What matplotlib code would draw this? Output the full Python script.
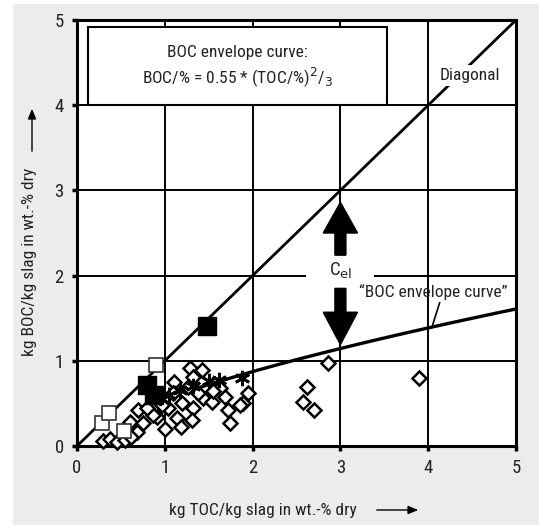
import numpy as np
import matplotlib
matplotlib.use("Agg")
import matplotlib.pyplot as plt
from matplotlib.patches import Rectangle, FancyArrow, FancyArrowPatch

plt.rcParams['font.family'] = ['Roboto Condensed', 'Liberation Sans Narrow',
                               'Open Sans Condensed', 'Liberation Sans', 'DejaVu Sans']

# ---- data ----
filled_sq_x = [1.48, 0.80, 0.88]
filled_sq_y = [1.41, 0.72, 0.60]

open_sq_x = [0.90, 0.28, 0.36, 0.54]
open_sq_y = [0.95, 0.27, 0.39, 0.18]

star_x = [0.95, 1.05, 1.17, 1.32, 1.50, 1.62, 1.88]
star_y = [0.56, 0.60, 0.66, 0.70, 0.76, 0.78, 0.80]

dia_x = [2.86, 2.62, 2.57, 2.70, 3.90, 1.89, 1.95,
         1.29, 1.42, 1.32, 1.26, 1.63, 1.44, 1.54, 1.32, 1.20, 1.14, 1.31,
         1.04, 0.91, 1.74, 1.72, 1.86, 1.10, 1.38, 1.55, 1.68,
         0.87, 0.97, 1.09, 0.68, 0.60, 0.75, 0.70, 0.80, 1.00, 1.18,
         0.30, 0.38, 0.46, 0.55, 0.62]
dia_y = [0.97, 0.69, 0.52, 0.42, 0.80, 0.50, 0.62,
         0.92, 0.89, 0.81, 0.69, 0.68, 0.56, 0.52, 0.45, 0.50, 0.33, 0.30,
         0.45, 0.34, 0.27, 0.42, 0.48, 0.75, 0.62, 0.64, 0.58,
         0.36, 0.48, 0.62, 0.16, 0.28, 0.27, 0.42, 0.45, 0.20, 0.22,
         0.06, 0.08, 0.05, 0.07, 0.10]

env_coef = 0.55
env_exp = 2 / 3
env_x = np.linspace(1.4, 5.0, 60)
env_y = env_coef * env_x ** env_exp

ticks = [0, 1, 2, 3, 4, 5]
FS = 12.5
TXT = '#222222'

# ---- figure ----
fig = plt.figure(figsize=(5.39, 5.28), dpi=100)
fig.patch.set_facecolor('white')
fig.patches.append(Rectangle((13 / 539, 1 - 525 / 528), 526 / 539, 521 / 528,
                             transform=fig.transFigure, facecolor='#ececec',
                             edgecolor='none', zorder=-10))

ax = fig.add_axes([77 / 539, 1 - 446 / 528, 439 / 539, 426 / 528])
ax.set_zorder(2)
ax.set_facecolor('white')
ax.set_xlim(0, 5)
ax.set_ylim(0, 5)
ax.set_xticks(ticks)
ax.set_yticks(ticks)
for s in ax.spines.values():
    s.set_linewidth(2.2)
    s.set_color('black')
ax.tick_params(direction='out', length=3.5, width=2.5, color='black',
               labelsize=13.5, labelcolor=TXT, pad=6)
ax.grid(True, color='black', linewidth=1.4)
ax.set_axisbelow(True)

# diagonal and envelope curve
ax.plot([0, 5], [0, 5], color='black', lw=2.0, zorder=3)
ax.plot(env_x, env_y, color='black', lw=2.4, zorder=3, solid_capstyle='butt')

# markers
ax.plot(dia_x, dia_y, 'D', ms=7.5, mfc='white', mec='black', mew=1.8,
        ls='none', zorder=4, clip_on=False)
ax.plot(open_sq_x, open_sq_y, 's', ms=10.5, mfc='white', mec='#333333', mew=1.2,
        ls='none', zorder=4)
ax.plot(star_x, star_y, marker=(6, 2, 0), ms=11, mec='black', mew=2.0,
        ls='none', zorder=5)
ax.plot(filled_sq_x, filled_sq_y, 's', ms=13, mfc='black', mec='black',
        ls='none', zorder=5)

# formula box
ax.add_patch(Rectangle((0.12, 4.0), 3.41, 4.92 - 4.0, facecolor='white',
                       edgecolor='black', lw=1.5, zorder=6))
ax.text(1.83, 4.62, 'BOC envelope curve:', ha='center', va='center',
        fontsize=FS, color=TXT, zorder=7)
ax.text(1.83, 4.33, 'BOC/% = 0.55 * (TOC/%)$^{2}$/$_{3}$', ha='center',
        va='center', fontsize=FS, color=TXT, zorder=7)

ax.text(4.48, 4.35, 'Diagonal', ha='center', va='center', fontsize=FS,
        color=TXT, zorder=7,
        bbox=dict(facecolor='white', edgecolor='none', pad=2))

# C_el arrows
ax.add_patch(FancyArrow(3.0, 2.24, 0, 0.62, width=0.125, head_width=0.39,
                        head_length=0.36, length_includes_head=True,
                        color='black', zorder=6))
ax.add_patch(FancyArrow(3.0, 1.85, 0, -0.66, width=0.125, head_width=0.39,
                        head_length=0.38, length_includes_head=True,
                        color='black', zorder=6))
ax.text(3.0, 2.06, 'C$_{\\mathrm{el}}$', ha='center', va='center',
        fontsize=FS + 1, color=TXT, zorder=5.5,
        bbox=dict(facecolor='white', edgecolor='none', pad=16))

ax.text(4.06, 1.81, '\u201cBOC envelope curve\u201d', ha='center', va='center',
        fontsize=FS, color=TXT, zorder=7)
ax.plot([4.13, 4.05], [1.68, 1.42], color='black', lw=1.2, zorder=6)

# axis labels with arrows
fig.text(263 / 539, 1 - 510 / 528, 'kg TOC/kg slag in wt.-% dry', ha='center',
         va='center', fontsize=FS, color=TXT)
fig.add_artist(FancyArrowPatch(
    (374 / 539, 1 - 510 / 528), (421 / 539, 1 - 510 / 528),
    transform=fig.transFigure, arrowstyle='-|>,head_length=6,head_width=2.5',
    color='black', lw=1.0))

fig.text(30 / 539, 1 - 262 / 528, 'kg BOC/kg slag in wt.-% dry', ha='center',
         va='center', rotation=90, fontsize=FS, color=TXT)
fig.add_artist(FancyArrowPatch(
    (32 / 539, 1 - 154 / 528), (32 / 539, 1 - 106 / 528),
    transform=fig.transFigure, arrowstyle='-|>,head_length=6,head_width=2.5',
    color='black', lw=1.0))

fig.savefig('out.png', dpi=100)
